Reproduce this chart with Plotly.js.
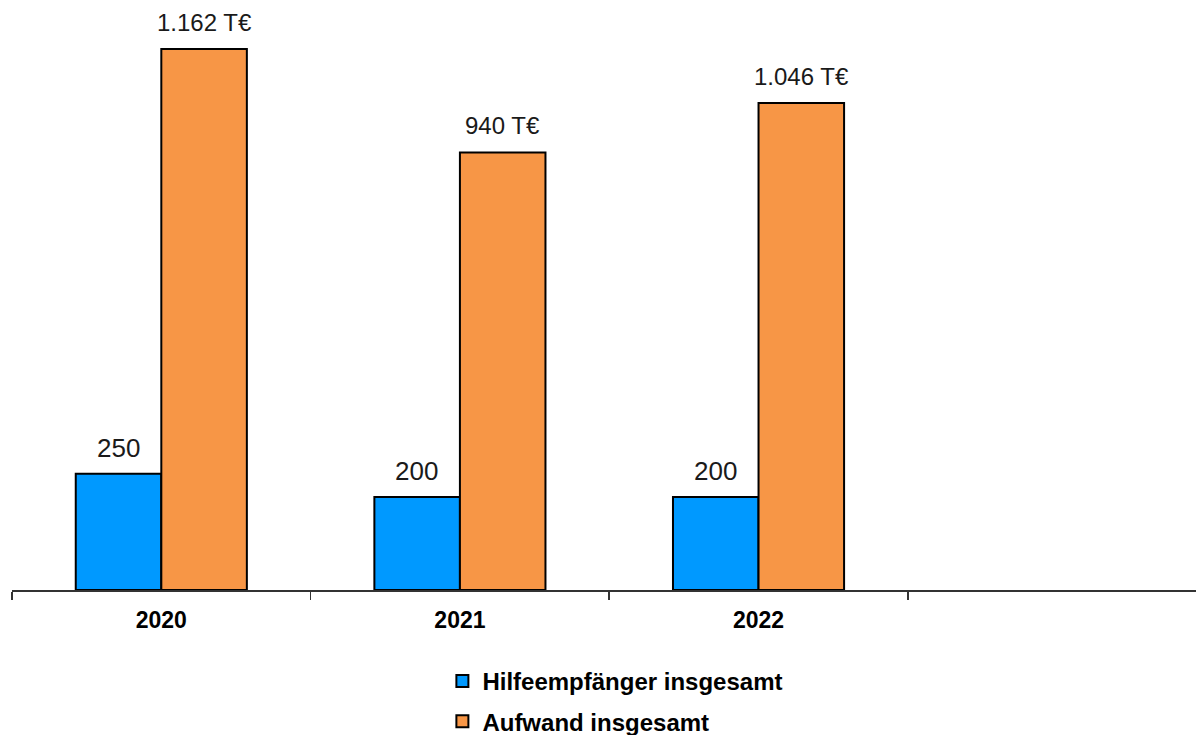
<!DOCTYPE html>
<html>
<head>
<meta charset="utf-8">
<script src="https://cdn.plot.ly/plotly-3.0.1.min.js"></script>
<style>html,body{margin:0;padding:0;background:#fff;}#chart{width:1196px;height:735px;}</style>
</head>
<body>
<div id="chart"></div>
<script>
const years = ["2020", "2021", "2022"];
const hilfeempfaenger = [250, 200, 200];
const aufwand = [1162, 940, 1046];
const seriesNames = ["Hilfeempfänger insgesamt", "Aufwand insgesamt"];

const font = "Liberation Sans, Arial, sans-serif";

function fmtDE(v) {
  return String(v).replace(/\B(?=(\d{3})+(?!\d))/g, ".");
}

const traces = [
  {
    type: "bar", name: seriesNames[0], x: years, y: hilfeempfaenger,
    marker: {color: "#0099FF", line: {color: "#000000", width: 2}},
    legendgroup: "a", hoverinfo: "skip"
  },
  {
    type: "bar", name: seriesNames[1], x: years, y: aufwand,
    marker: {color: "#F79646", line: {color: "#000000", width: 2}},
    legendgroup: "b", hoverinfo: "skip"
  }
];

const annotations = [];
years.forEach((yr, i) => {
  annotations.push({
    x: i, y: hilfeempfaenger[i], xref: "x", yref: "y",
    text: fmtDE(hilfeempfaenger[i]), showarrow: false,
    xanchor: "center", yanchor: "bottom", xshift: -43, yshift: 9,
    font: {family: font, size: 26, color: "#1a1a1a"}
  });
  annotations.push({
    x: i, y: aufwand[i], xref: "x", yref: "y",
    text: fmtDE(aufwand[i]) + " T€", showarrow: false,
    xanchor: "center", yanchor: "bottom", xshift: 43, yshift: 11,
    font: {family: font, size: 24, color: "#1a1a1a"}
  });
});

const layout = {
  width: 1196, height: 735,
  margin: {l: 12, r: 0, t: 10, b: 145, autoexpand: false},
  paper_bgcolor: "#ffffff", plot_bgcolor: "#ffffff",
  barmode: "group", bargap: 0.427, bargroupgap: 0,
  showlegend: true,
  annotations: annotations,
  legend: {
    orientation: "v", x: 0.3635, xanchor: "left", y: -0.119, yanchor: "top",
    traceorder: "grouped", tracegroupgap: 6,
    font: {family: font, size: 24, color: "#000000", weight: "bold"},
    itemwidth: 30
  },
  xaxis: {
    type: "category", range: [-0.5, 3.465],
    tickson: "boundaries", ticks: "outside", ticklen: 8, tickwidth: 1.5, tickcolor: "#333333",
    ticklabelstandoff: 8,
    showline: true, linecolor: "#333333", linewidth: 2,
    showgrid: false, zeroline: false,
    tickfont: {family: font, size: 23, color: "#000000", weight: "bold"}
  },
  yaxis: {
    range: [0, 1246], showgrid: false, zeroline: false, showline: false,
    showticklabels: false, ticks: ""
  }
};

Plotly.newPlot("chart", traces, layout, {displayModeBar: false, staticPlot: true});
</script>
</body>
</html>
